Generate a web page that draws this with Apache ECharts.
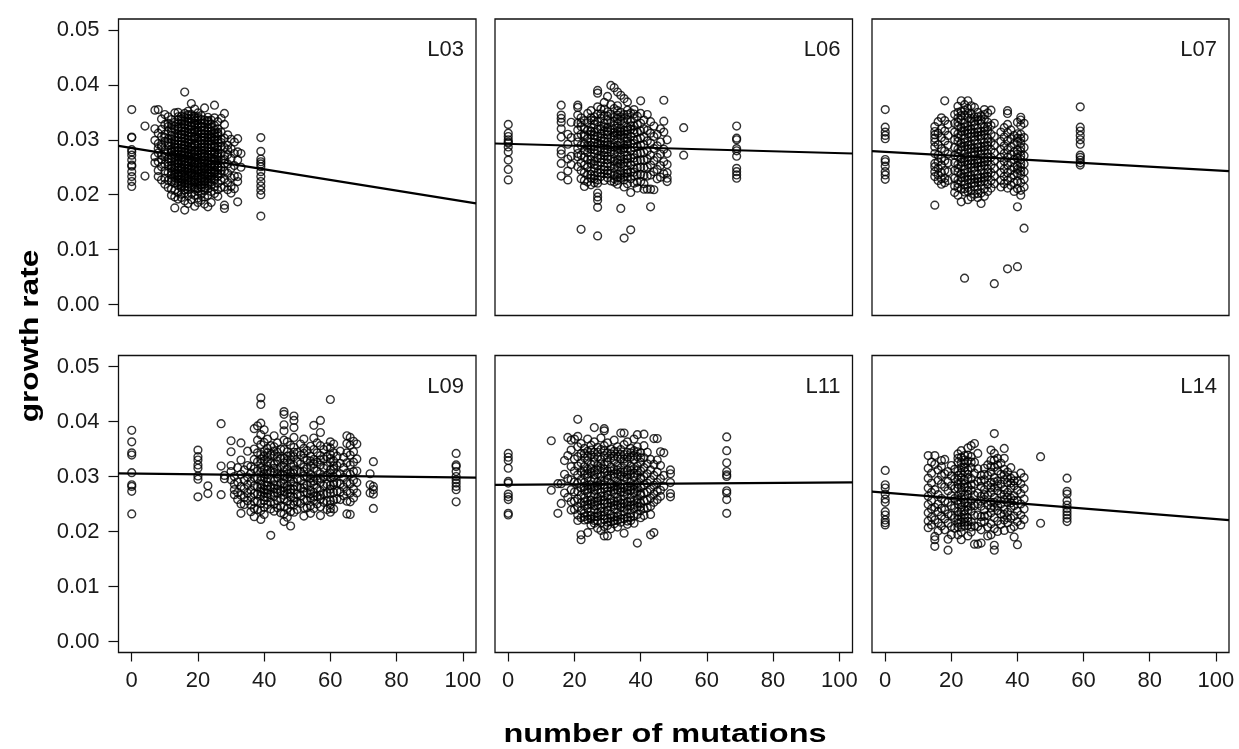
<!DOCTYPE html>
<html>
<head>
<meta charset="utf-8">
<script src="https://cdn.jsdelivr.net/npm/echarts@6/dist/echarts.min.js"></script>
<style>html,body{margin:0;padding:0;background:#fff}#c{width:1239px;height:749px}</style>
</head>
<body>
<div id="c"></div>
<script>
// ---- data (growth rate in per-mille units: value / 1000) ----
const panelNames = ['L03', 'L06', 'L07', 'L09', 'L11', 'L14'];
const xTicks = [0, 20, 40, 60, 80, 100];
const yTicks = [0, 0.01, 0.02, 0.03, 0.04, 0.05];
const xLabelTitle = 'number of mutations';
const yLabelTitle = 'growth rate';
// fitted regression line (per-mille): intercept and slope per mutation
const fitIntercept = [28.51, 29.26, 27.80, 30.55, 28.49, 27.06];
const fitSlope = [-0.0969, -0.0169, -0.0336, -0.0073, 0.0044, -0.0479];

// [number of mutations, [growth rate x1000 ...]]
const L03 = [
 [0,[35.5,30.5,30.4,28.2,27.8,27.2,26.3,25.4,25.2,24.2,23.3,22.4,21.5]],
 [4,[32.5,23.4]],
 [7,[32.0,29.9,26.9,25.8,35.4]],
 [8,[35.5,31.2,28.4,27.6,26.0,24.4,23.3,29.3]],
 [9,[33.8,30.6,29.0,27.2,25.1,22.7,26.4,28.7,31.9]],
 [10,[34.6,32.8,31.0,29.7,28.1,26.9,25.6,24.3,23.0,21.9,30.4,27.4]],
 [11,[34.2,33.0,31.6,30.1,28.9,27.8,26.5,25.2,24.0,22.6,21.3,29.5,25.9,32.4]],
 [12,[33.7,32.1,30.8,29.4,28.3,27.1,26.0,24.8,23.6,22.4,21.0,19.9,31.5,27.7,25.3,32.7,30.1,27.8,26.6,24.2,23.0]],
 [13,[34.9,33.2,31.9,30.5,29.2,28.0,26.8,25.5,24.5,23.2,22.1,20.8,19.6,17.6,30.0,27.3,23.9,32.5,29.8,28.6,27.9,26.2,25.0,23.7,22.6]],
 [14,[35.0,33.6,32.3,31.1,29.8,28.6,27.5,26.3,25.1,24.0,22.9,21.7,20.4,19.2,32.9,28.1,25.8,23.4,34.2,32.0,30.4,29.2,28.0,26.9,25.7,24.5,23.5,22.3]],
 [15,[34.3,32.9,31.6,30.4,29.1,27.9,26.7,25.6,24.6,23.5,22.3,21.2,20.1,19.5,33.8,30.9,27.2,24.9,22.0,33.4,32.2,31.0,29.7,28.5,27.3,26.1,25.0,23.9,22.8,21.7]],
 [16,[38.7,34.8,33.4,32.2,30.9,29.6,28.4,27.2,26.0,24.9,23.8,22.7,21.5,20.3,18.9,17.2,31.4,28.9,25.4,23.1,34.1,32.8,31.6,30.3,29.1,27.8,26.6,25.5,24.3,23.3,22.1,20.9]],
 [17,[35.2,33.9,32.6,31.3,30.1,28.8,27.7,26.5,25.3,24.2,23.1,22.0,20.9,19.8,18.4,34.4,29.5,27.0,24.7,34.6,33.3,32.0,30.7,29.4,28.2,27.1,25.9,24.8,23.6,22.5,21.4]],
 [18,[36.6,34.6,33.1,31.8,30.6,29.3,28.1,26.9,25.8,24.6,23.5,22.4,21.3,20.2,19.1,32.5,28.6,26.2,23.9,21.8,33.8,32.4,31.2,29.9,28.7,27.5,26.3,25.2,24.0,22.9]],
 [19,[35.6,34.0,32.7,31.4,30.2,29.0,27.8,26.6,25.5,24.4,23.2,22.1,21.0,19.9,17.9,33.5,30.7,27.4,25.0,22.7,34.3,33.0,31.8,30.5,29.3,28.1,26.9,25.8,24.7,23.6,22.4,21.4]],
 [20,[34.9,33.5,32.2,31.0,29.7,28.5,27.3,26.1,25.0,23.9,22.8,21.7,20.6,19.4,18.6,34.2,31.6,28.0,24.5,21.2,33.9,32.8,31.4,30.3,29.1,27.9,26.7,25.5,24.4,23.3,22.2,21.1]],
 [21,[34.4,33.0,31.7,30.5,29.3,28.1,26.9,25.7,24.6,23.5,22.4,21.3,20.1,19.0,32.4,29.9,27.6,25.2,23.0,33.7,32.3,31.1,29.9,28.6,27.5,26.3,25.1,24.0,22.9,21.8]],
 [22,[35.8,33.6,32.3,31.1,29.9,28.7,27.5,26.3,25.2,24.1,23.0,21.9,20.7,19.6,18.3,30.4,27.0,24.8,22.5,33.0,31.7,30.5,29.3,28.1,26.9,25.7,24.6,23.5,22.4,21.3]],
 [23,[34.1,32.8,31.5,30.3,29.1,27.9,26.7,25.6,24.5,23.4,22.2,21.1,19.9,17.8,33.3,28.6,26.1,23.8,33.5,32.1,30.9,29.7,28.5,27.3,26.1,25.0,23.9,22.8,21.6]],
 [24,[33.6,32.3,31.0,29.8,28.6,27.4,26.2,25.1,24.0,22.9,21.8,20.6,18.6,30.6,27.9,25.5,23.3,32.9,31.6,30.4,29.2,28.0,26.8,25.6,24.5,23.4,22.3]],
 [25,[36.3,34.0,32.6,31.2,29.9,28.6,27.3,26.1,25.0,23.8,22.6,21.4,20.2,30.5,27.8,24.4,31.8,30.1,28.9,27.5,26.5,25.4,24.1,22.9]],
 [26,[33.3,32.0,30.7,29.4,28.2,26.9,25.7,24.5,23.3,22.1,20.9,19.7,31.3,27.6,25.1,31.1,29.9,28.8,27.2,26.2,24.9,23.8]],
 [27,[33.9,31.4,30.1,28.8,27.5,26.3,25.0,23.8,22.6,21.3,29.5,24.4]],
 [28,[34.8,32.8,30.3,28.6,27.1,25.7,24.3,22.9,21.4,18.1,17.5,26.4]],
 [29,[30.9,29.0,27.3,25.6,23.9,22.2,20.9,28.2]],
 [30,[30.1,28.4,26.6,24.8,23.1,21.5,20.3]],
 [31,[29.6,27.5,25.3,23.4,21.1]],
 [32,[30.2,27.8,26.3,23.3,22.4,18.7]],
 [33,[27.5,25.0]],
 [39,[30.4,27.9,26.5,26.0,25.6,25.1,24.2,23.3,22.4,21.6,20.8,20.0,16.1]]
];
const L06 = [
 [0,[32.8,31.2,30.6,30.0,29.6,29.4,28.7,27.8,26.3,24.6,22.7]],
 [16,[36.3,34.5,33.9,33.2,32.0,30.5,28.1,27.4,25.7,23.4]],
 [18,[31.0,29.2,26.5,24.3,22.7]],
 [19,[33.2,30.4,27.0,25.5]],
 [21,[36.3,35.9,34.5,33.0,30.5,28.4,27.5,26.9,25.1,29.6,31.8]],
 [22,[34.0,32.4,31.0,29.0,27.2,25.8,24.4,22.9,13.7,33.1]],
 [23,[33.5,32.0,30.6,29.3,28.1,26.8,25.4,24.0,22.6,21.5,30.9]],
 [24,[34.8,33.1,31.7,30.2,29.0,27.7,26.4,25.0,23.6,22.3,28.6]],
 [25,[35.3,33.6,32.3,30.9,29.6,28.3,27.0,25.7,24.3,23.0,21.8,31.5,34.0,31.6,29.0,26.4,23.7]],
 [26,[34.2,32.8,31.4,30.1,28.8,27.5,26.1,24.8,23.5,22.2,29.5,33.5,30.8,28.2,25.5,22.9]],
 [27,[39.0,38.5,36.0,34.7,33.3,31.9,30.6,29.3,28.0,26.7,25.3,24.0,22.7,22.1,20.3,19.6,19.0,17.7,12.5]],
 [28,[35.6,33.9,32.5,31.1,29.8,28.5,27.2,25.9,24.6,23.3,30.3,34.7,32.0,29.2,26.6,24.0]],
 [29,[36.8,34.4,33.0,31.6,30.3,29.0,27.7,26.4,25.1,23.8,22.6,28.2,35.6,32.3,29.7,27.1,24.5]],
 [30,[37.9,35.1,33.6,32.2,30.9,29.6,28.3,27.0,25.7,24.4,23.1,31.4,34.3,31.6,29.0,26.4,23.8]],
 [31,[39.9,36.4,34.7,33.2,31.8,30.4,29.1,27.8,26.5,25.2,23.9,22.5,28.7]],
 [32,[39.5,35.7,34.1,32.6,31.3,30.0,28.7,27.4,26.1,24.8,23.5,22.3,30.8,33.4,30.7,28.1,25.5,22.9]],
 [33,[38.7,36.2,34.5,33.0,31.6,30.3,29.0,27.7,26.4,25.1,23.8,22.6,21.9,32.1,35.3,33.8,31.0,28.4,25.8,23.2]],
 [34,[38.1,35.0,33.5,32.1,30.8,29.5,28.2,26.9,25.6,24.3,23.0,17.5,31.5,34.2,31.4,28.8,26.2,23.6]],
 [35,[37.5,34.6,33.1,31.7,30.4,29.1,27.8,26.5,25.2,23.9,22.7,21.4,12.1,28.5,33.9,31.1,28.5,25.9,23.3]],
 [36,[36.9,35.4,33.7,32.3,31.0,29.7,28.4,27.1,25.8,24.5,23.2,22.0,30.2,34.6,31.7,29.1,26.5,23.9]],
 [37,[34.9,33.3,31.9,30.6,29.3,28.0,26.7,25.4,24.1,22.9,20.4,13.6,32.5]],
 [38,[35.5,33.9,32.5,31.2,29.9,28.6,27.3,26.0,24.7,23.4,22.1,34.7,31.8,29.3,26.7,24.1]],
 [39,[34.3,32.8,31.4,30.1,28.8,27.5,26.2,24.9,23.6,22.3,21.2]],
 [40,[37.1,34.8,33.0,31.6,30.3,29.0,27.6,26.3,25.0,23.7,22.4]],
 [41,[33.6,32.0,30.5,29.1,27.7,26.3,24.9,23.5,22.0,21.0]],
 [42,[34.6,31.7,29.8,28.0,26.5,25.0,23.4,21.0]],
 [43,[33.3,31.2,29.4,27.2,25.4,23.6,21.0,17.8]],
 [44,[32.5,30.6,28.4,26.2,24.2,20.9]],
 [45,[31.0,28.9,26.8,24.6,22.9]],
 [46,[32.0,29.6,27.4,25.3,23.2]],
 [47,[37.2,33.4,31.4,28.3,26.0,23.8]],
 [48,[30.0,27.5,25.5,24.0,22.4,23.0]],
 [53,[32.2,27.2]],
 [69,[32.5,30.3,30.0,28.4,28.0,27.0,24.8,24.2,23.6,23.0]]
];
const L07 = [
 [0,[35.5,32.3,31.4,30.8,30.2,26.4,26.0,25.2,24.2,23.6,22.8]],
 [15,[32.4,31.5,30.9,30.3,29.6,28.7,27.5,25.7,25.1,24.2,23.3,18.1]],
 [16,[33.3,31.2,29.1,27.2,26.0,24.8,23.6,22.6]],
 [17,[34.0,32.0,30.4,28.4,26.6,25.4,24.0,22.9,21.9]],
 [18,[37.1,33.5,31.6,29.8,28.0,26.2,24.4,23.0,22.2]],
 [19,[32.8,30.8,29.0,27.4,25.8,24.2,22.6]],
 [21,[34.6,33.0,31.4,30.0,28.6,27.2,25.8,24.4,23.0,21.6,20.4]],
 [22,[36.1,34.0,32.5,31.1,29.7,28.3,26.9,25.5,24.1,22.7,21.3,19.9,35.0,33.2,30.4,27.6,24.8,22.0]],
 [23,[37.1,35.2,33.6,32.2,30.8,29.4,28.0,26.6,25.2,23.8,22.4,21.0,18.7,34.4,31.5,28.7,25.9,23.1]],
 [24,[36.4,34.5,33.0,31.6,30.2,28.8,27.4,26.0,24.6,23.2,21.8,20.5,4.8,35.4,32.3,29.5,26.7,23.9,21.1]],
 [25,[37.1,35.7,34.0,32.5,31.1,29.7,28.3,26.9,25.5,24.1,22.7,21.3,19.1,34.8,31.8,29.0,26.2,23.4,20.6]],
 [26,[36.2,34.8,33.3,31.9,30.5,29.1,27.7,26.3,24.9,23.5,22.1,20.7,19.6,33.9,31.2,28.4,25.6,22.8]],
 [27,[35.9,34.2,32.7,31.3,29.9,28.5,27.1,25.7,24.3,22.9,21.5,20.1,33.4,30.6,27.8,25.0,22.2]],
 [28,[35.0,33.5,32.1,30.7,29.3,27.9,26.5,25.1,23.7,22.3,20.9,19.5,34.2,31.4,28.6,25.8,23.0,20.2]],
 [29,[34.4,32.9,31.5,30.1,28.7,27.3,25.9,24.5,23.1,21.7,20.3,18.4,33.6,30.8,28.0,25.2,22.4]],
 [30,[35.5,33.8,32.3,30.9,29.5,28.1,26.7,25.3,23.9,22.5,21.1,19.7,34.6,31.6,28.8,26.0,23.2]],
 [31,[34.9,33.2,31.7,30.3,28.9,27.5,26.1,24.7,23.3,21.9,20.6,32.4,29.6,26.8,24.0]],
 [32,[35.4,32.6,31.0,29.6,28.2,26.8,25.4,24.0,22.6,21.2]],
 [33,[33.0,30.6,29.0,27.6,26.2,24.8,23.4,22.0,3.8]],
 [35,[31.4,29.7,28.2,26.8,25.4,24.0,22.6,21.4]],
 [36,[32.2,30.5,28.9,27.5,26.1,24.7,23.3,22.0]],
 [37,[35.3,34.8,32.8,31.3,29.8,28.2,26.8,25.4,24.0,22.6,21.2,6.5]],
 [38,[31.8,30.2,28.7,27.3,25.9,24.5,23.1,21.7]],
 [39,[30.8,29.3,27.8,26.4,25.0,23.6,22.2,20.6]],
 [40,[33.2,31.1,29.6,28.1,26.7,25.3,23.9,22.5,21.1,17.8,6.9,30.3,27.4,24.6]],
 [41,[34.1,33.6,32.6,31.0,29.4,27.9,26.4,25.0,23.6,22.2,20.8,19.9,30.2,28.6,27.1,25.7,24.3]],
 [42,[33.0,30.4,28.6,27.1,25.6,24.2,22.8,21.4,13.9]],
 [59,[36.0,32.3,31.6,30.8,30.0,29.2,27.2,26.8,26.3,25.8,25.4]]
];
const L09 = [
 [0,[38.4,36.3,34.3,33.9,30.7,28.5,28.2,27.3,23.2]],
 [20,[34.8,33.6,33.0,32.1,31.5,30.1,29.5,26.3]],
 [23,[28.3,26.9]],
 [27,[39.6,31.9,26.7]],
 [28,[30.2,29.6]],
 [30,[36.5,34.5,32.0,30.9,29.4]],
 [31,[30.0,28.6,27.6,26.7]],
 [32,[31.6,29.0,27.1,25.8]],
 [33,[36.1,33.0,30.4,28.2,26.6,25.0,23.3]],
 [34,[31.2,29.3,27.8,26.2,24.9]],
 [35,[34.6,32.0,29.9,28.5,27.0,25.6]],
 [36,[31.8,30.6,29.1,27.5,26.3,24.8,23.6]],
 [37,[38.7,35.0,33.1,31.4,29.8,28.3,26.9,25.4,24.2,22.7]],
 [38,[39.2,36.6,34.3,32.7,31.0,29.6,28.1,26.8,25.5,24.0]],
 [39,[44.3,43.1,39.7,37.6,35.8,34.0,32.4,30.8,29.3,27.9,26.5,25.1,23.8,22.2,33.2,31.6,30.0,28.6,27.2]],
 [40,[38.5,36.2,34.5,32.9,31.3,29.8,28.4,27.0,25.6,24.4,23.1,33.7,30.5,27.7,26.3]],
 [41,[36.8,35.1,33.5,31.9,30.4,29.0,27.6,26.2,24.9,34.3,32.7,31.1,29.7,28.3,26.9]],
 [42,[35.6,34.0,32.4,30.9,29.5,28.1,26.7,25.3,24.1,19.3]],
 [43,[37.4,35.4,33.8,32.2,30.7,29.2,27.8,26.4,25.0,23.7,34.6,31.5,28.5,27.1]],
 [44,[36.1,34.4,32.8,31.3,29.8,28.4,27.0,25.6,24.3,33.6,30.5,27.7]],
 [45,[35.0,33.3,31.8,30.3,28.8,27.4,26.0,24.6,23.4]],
 [46,[41.8,41.3,39.4,38.3,36.6,34.9,33.3,31.7,30.2,28.7,27.3,25.9,24.5,23.2,21.8,32.5,30.9,29.5,28.0,26.6]],
 [47,[36.3,34.5,32.9,31.3,29.8,28.3,26.9,25.5,24.2,22.6,33.7,30.5,27.6]],
 [48,[35.7,33.8,32.2,30.6,29.1,27.7,26.3,24.9,23.6,21.0,33.0,29.9,27.0]],
 [49,[41.0,40.2,38.9,37.1,35.3,33.6,32.0,30.5,29.0,27.6,26.2,24.8,23.5,34.4,31.2,28.3,25.5]],
 [50,[34.4,32.7,31.1,29.6,28.2,26.8,25.4,24.0]],
 [51,[35.9,33.9,32.3,30.8,29.3,27.9,26.5,25.1]],
 [52,[36.8,35.1,33.3,31.7,30.1,28.6,27.2,25.8,24.3,22.8,34.2,30.9,27.9]],
 [53,[34.7,33.0,31.4,29.9,28.4,27.0,25.6,24.3]],
 [54,[35.5,33.7,32.0,30.4,28.9,27.5,26.1,24.7,23.3,32.8,29.7,26.8]],
 [55,[39.3,37.0,34.9,33.1,31.5,30.0,28.5,27.1,25.7,24.2,32.3,29.2,26.4]],
 [56,[36.1,34.3,32.6,31.0,29.4,27.9,26.4,25.0]],
 [57,[40.2,38.0,35.6,33.8,32.1,30.5,28.9,27.4,25.9,24.5,22.9,33.0,29.7,26.6]],
 [58,[34.9,33.2,31.5,29.9,28.3,26.8,25.3]],
 [59,[35.4,33.6,31.9,30.2,28.6,27.0,25.5,24.0]],
 [60,[44.0,36.3,35.2,34.0,32.6,31.2,29.8,28.4,27.0,25.6,24.2,23.5,33.3,30.5,27.7,24.9]],
 [61,[35.9,34.3,32.8,31.3,29.9,28.5,27.1,25.7,24.1,31.9,28.9]],
 [62,[33.7,32.0,30.4,28.8,27.3,25.9]],
 [63,[34.6,32.4,30.5,28.7,27.2,25.8]],
 [64,[33.5,31.6,29.8,28.1,26.5]],
 [65,[37.4,36.0,34.3,32.5,30.6,28.9,27.3,25.5,23.2]],
 [66,[37.1,35.7,33.9,32.1,30.4,28.7,27.0,25.4,23.1]],
 [67,[36.4,34.5,32.6,30.9,29.3,27.7,26.1]],
 [68,[35.9,33.2,31.0,28.9,27.0]],
 [72,[30.5,28.5,27.0]],
 [73,[32.7,28.2,27.6,26.8,24.2]],
 [98,[34.2,32.1,31.8,30.9,30.0,29.4,28.8,28.2,27.6,25.4]]
];
const L11 = [
 [0,[34.2,33.5,32.9,31.5,29.1,28.8,26.8,26.3,25.8,23.3,23.0]],
 [13,[36.5,27.5]],
 [15,[28.7,23.3]],
 [16,[28.7,25.1]],
 [17,[32.9,30.4,27.0]],
 [18,[37.1,33.8,29.6,26.2]],
 [19,[36.6,34.8,31.8,29.4,27.6,25.4,23.9]],
 [20,[36.8,33.2,31.0,29.0,27.2,25.5,24.0]],
 [21,[40.4,37.3,35.4,33.6,31.9,30.3,28.8,27.3,25.9,24.5,23.0,22.0]],
 [22,[36.0,34.2,32.5,30.9,29.4,28.0,26.6,25.2,23.8,22.5,19.4,18.5]],
 [23,[35.1,33.4,31.8,30.3,28.9,27.5,26.1,24.7,23.3,22.1,34.2,31.0,28.2,25.4,22.7]],
 [24,[36.8,34.6,32.9,31.3,29.8,28.4,27.0,25.6,24.2,22.9,19.8,33.7,30.5,27.7,24.9,22.2]],
 [25,[35.7,33.9,32.2,30.7,29.2,27.8,26.4,25.0,23.6,22.3,21.2,34.8,31.4,28.5,25.7,22.9]],
 [26,[38.9,36.3,34.4,32.7,31.1,29.6,28.2,26.8,25.4,24.0,22.7,21.5,33.5,30.3,27.5,24.7,22.0]],
 [27,[35.3,33.6,32.0,30.5,29.0,27.6,26.2,24.8,23.4,22.0,20.6,34.4,31.2,28.3,25.5,22.7]],
 [28,[37.0,34.9,33.1,31.5,30.0,28.5,27.1,25.7,24.3,22.9,21.6,20.2,32.3,29.2,26.4,23.6]],
 [29,[38.7,38.3,35.6,33.8,32.2,30.7,29.2,27.8,26.4,25.0,23.6,22.2,20.9,19.2,34.7,31.4,28.5,25.7,22.9]],
 [30,[36.1,34.3,32.6,31.0,29.5,28.0,26.6,25.2,23.8,22.4,21.1,19.2,33.4,30.2,27.3,24.5,21.7]],
 [31,[35.0,33.3,31.7,30.2,28.7,27.3,25.9,24.5,23.1,21.8,20.5,34.1,31.0,28.0,25.2,22.4]],
 [32,[36.6,34.6,32.9,31.3,29.8,28.3,26.9,25.5,24.1,22.7,21.4,33.7,30.5,27.6,24.8,22.0]],
 [33,[35.4,33.6,32.0,30.5,29.0,27.6,26.2,24.8,23.4,22.0,20.8,34.5,31.2,28.3,25.5,22.7]],
 [34,[37.9,34.9,33.2,31.6,30.1,28.6,27.2,25.8,24.4,23.0,21.7,34.0,30.8,27.9,25.1,22.3]],
 [35,[37.9,35.8,34.0,32.4,30.8,29.3,27.9,26.5,25.1,23.7,22.3,19.7,33.2,29.9,27.2,24.4]],
 [36,[36.3,34.4,32.7,31.1,29.6,28.2,26.8,25.4,24.0,22.6,21.3,33.5,30.3,27.5,24.7,21.9]],
 [37,[35.1,33.5,31.9,30.4,28.9,27.5,26.1,24.7,23.3,22.0,34.3,31.1,28.2,25.4,22.6]],
 [38,[36.8,34.7,33.0,31.4,29.9,28.4,27.0,25.6,24.2,22.8,21.5,33.8,30.6,27.7,24.9]],
 [39,[37.6,35.4,33.6,31.9,30.3,28.8,27.3,25.9,24.5,23.1,17.9,34.5,31.1,28.0,25.2]],
 [40,[34.3,32.6,31.0,29.5,28.0,26.6,25.2,23.8,22.5,33.4,29.7,26.9,24.5]],
 [41,[37.7,35.6,33.4,31.6,30.0,28.5,27.0,25.6,24.2,22.9]],
 [42,[34.4,32.3,30.5,28.8,27.2,25.7,24.3]],
 [43,[33.1,31.2,29.4,27.7,26.1,24.6,23.1,19.4]],
 [44,[36.9,32.2,30.2,28.4,26.8,25.3,19.8]],
 [45,[36.9,33.0,30.8,28.9,27.3,25.8]],
 [46,[34.5,32.0,29.6,27.5,26.4]],
 [47,[34.3,30.2,28.2]],
 [49,[31.2,30.5,28.9,26.9,26.3]],
 [66,[37.2,34.7,32.5,30.9,30.3,30.0,27.4,27.0,25.8,23.3]]
];
const L14 = [
 [0,[31.1,28.5,27.9,26.8,25.9,25.3,23.6,23.0,22.1,21.6,21.2]],
 [13,[33.8,31.5,29.7,27.9,26.4,24.9,23.4,21.9,20.7]],
 [14,[32.6,30.6,28.8,27.1,25.6,24.1,22.6,21.2]],
 [15,[33.8,32.2,27.6,24.4,22.1,19.1,18.5,17.3]],
 [16,[31.2,29.3,26.7,25.0,23.6,21.6,20.1]],
 [17,[32.9,31.8,30.2,28.6,26.0,24.2,22.8,21.0]],
 [18,[33.1,30.5,28.1,25.5,23.9,22.3,20.3]],
 [19,[30.9,29.1,27.4,25.3,23.2,21.5,18.6,16.6]],
 [20,[32.0,30.1,28.3,26.5,24.7,22.9,20.9,19.4]],
 [21,[31.3,29.6,27.8,26.0,24.3,22.5,20.6]],
 [22,[34.1,32.6,31.0,29.4,27.9,26.4,25.0,23.6,22.2,20.8,19.4,33.3,30.2,28.6,25.7,22.9,21.5]],
 [23,[34.7,33.5,32.5,31.6,30.7,29.8,28.9,28.0,27.1,26.2,25.3,24.4,23.5,22.6,21.7,20.8,19.9,18.5]],
 [24,[33.8,32.3,30.9,29.4,28.0,26.6,25.2,23.8,22.4,21.0,33.0,31.6,28.7,25.9,23.1,21.7]],
 [25,[35.2,32.8,31.2,29.6,28.1,26.7,25.3,23.9,22.5,21.1,19.2,33.9,30.4,27.4,24.6,21.8]],
 [26,[35.6,33.6,31.6,29.6,27.5,25.6,23.7,21.8,19.9,32.6,28.5,24.6,20.8]],
 [27,[36.0,32.6,30.6,28.6,26.6,24.7,22.9,21.0,17.7]],
 [28,[34.2,31.4,29.1,27.0,25.0,23.0,20.9,17.7]],
 [29,[30.2,28.2,26.4,24.6,22.7,20.3,17.9,29.2,25.5,21.7]],
 [30,[31.5,29.4,27.6,25.8,23.9,21.8,30.4,26.7,22.8]],
 [31,[32.1,30.2,28.4,26.6,24.8,22.9,20.8,19.2]],
 [32,[34.8,32.9,30.8,28.9,27.1,25.3,23.4,21.4,19.4,31.8,28.0,24.3]],
 [33,[37.8,34.2,31.7,29.8,28.0,26.2,24.4,22.5,20.5,17.5,16.6,33.0,29.0,25.3]],
 [34,[33.3,31.0,29.2,27.4,25.6,23.8,21.9,20.0,32.1,28.3,24.7]],
 [35,[32.4,30.4,28.6,26.8,25.0,23.2,21.3]],
 [36,[35.1,33.3,31.3,29.4,27.6,25.8,24.0,22.1,20.2,30.3,26.7,23.1]],
 [37,[30.8,28.9,27.1,25.3,23.5,21.6,29.8,26.2,22.5]],
 [38,[31.6,29.7,27.9,26.1,24.3,22.4,20.5,28.8,25.2]],
 [39,[30.1,28.3,26.5,24.7,22.8,20.9,19.0,29.2,25.6]],
 [40,[29.2,27.5,25.6,23.7,21.8,17.6]],
 [41,[30.6,28.7,26.9,25.0,23.0,21.2]],
 [42,[29.8,27.8,25.9,24.1,22.2]],
 [47,[33.6,21.5]],
 [55,[29.7,27.3,26.8,25.6,24.8,24.2,23.6,23.0,22.4,21.8]]
];
const panelData = [L03, L06, L07, L09, L11, L14];

// ---- layout ----
const X_MIN = -4, X_MAX = 104, Y_MIN = -0.002, Y_MAX = 0.052;
const colLeft = [118.5, 495, 872];
const colWidth = [357.5, 357.5, 357];
const rowTop = [19, 355.5];
const rowHeight = [296.5, 297];
const FONT = "'Liberation Sans', Arial, Helvetica, sans-serif";

const chart = echarts.init(document.getElementById('c'), null, {renderer: 'canvas'});
const grids = [], xAxes = [], yAxes = [], series = [], graphics = [];

panelNames.forEach((name, i) => {
  const r = Math.floor(i / 3), c = i % 3;
  grids.push({left: colLeft[c], top: rowTop[r], width: colWidth[c], height: rowHeight[r],
    show: true, borderColor: '#111', borderWidth: 1.3, backgroundColor: 'transparent', containLabel: false});
  const bottomRow = r === 1, leftCol = c === 0;
  xAxes.push({type: 'value', gridIndex: i, min: X_MIN, max: X_MAX, position: 'bottom',
    axisLine: {show: false, onZero: false}, splitLine: {show: false},
    axisTick: {show: bottomRow, inside: false, length: 9, customValues: xTicks, lineStyle: {color: '#111', width: 1.2}},
    axisLabel: {show: bottomRow, customValues: xTicks, margin: 17, color: '#1a1a1a', fontSize: 22, fontFamily: FONT}});
  yAxes.push({type: 'value', gridIndex: i, min: Y_MIN, max: Y_MAX, position: 'left',
    axisLine: {show: false, onZero: false}, splitLine: {show: false},
    axisTick: {show: leftCol, inside: false, length: 10, customValues: yTicks, lineStyle: {color: '#111', width: 1.2}},
    axisLabel: {show: leftCol, customValues: yTicks, margin: 19, color: '#1a1a1a', fontSize: 22, fontFamily: FONT,
      formatter: v => v.toFixed(2)}});
  const pts = [];
  panelData[i].forEach(([x, ys]) => ys.forEach(y => pts.push([x, y / 1000])));
  series.push({type: 'scatter', xAxisIndex: i, yAxisIndex: i, data: pts, large: false,
    symbol: 'circle', symbolSize: 7.8, silent: true,
    itemStyle: {color: 'rgba(0,0,0,0)', borderColor: '#000', borderWidth: 1.4}});
  series.push({type: 'line', xAxisIndex: i, yAxisIndex: i, silent: true, symbol: 'none',
    data: [X_MIN, X_MAX].map(x => [x, (fitIntercept[i] + fitSlope[i] * x) / 1000]),
    lineStyle: {color: '#000', width: 2.2}, z: 5});
  graphics.push({type: 'text', x: colLeft[c] + colWidth[c] - 12, y: rowTop[r] + 31,
    style: {text: name, textAlign: 'right', textVerticalAlign: 'middle', fill: '#1a1a1a',
      font: '22px ' + FONT}});
});

graphics.push({type: 'text', x: 31, y: 336, rotation: Math.PI / 2, scaleX: 1.22, scaleY: 1,
  style: {text: yLabelTitle, textAlign: 'center', textVerticalAlign: 'middle', fill: '#000',
    font: 'bold 26px ' + FONT}});
graphics.push({type: 'text', x: 665, y: 735, scaleX: 1.25, scaleY: 1,
  style: {text: xLabelTitle, textAlign: 'center', textVerticalAlign: 'middle', fill: '#000',
    font: 'bold 26px ' + FONT}});

chart.setOption({
  animation: false,
  backgroundColor: '#fff',
  grid: grids, xAxis: xAxes, yAxis: yAxes, series: series,
  graphic: {elements: graphics}
});
</script>
</body>
</html>
